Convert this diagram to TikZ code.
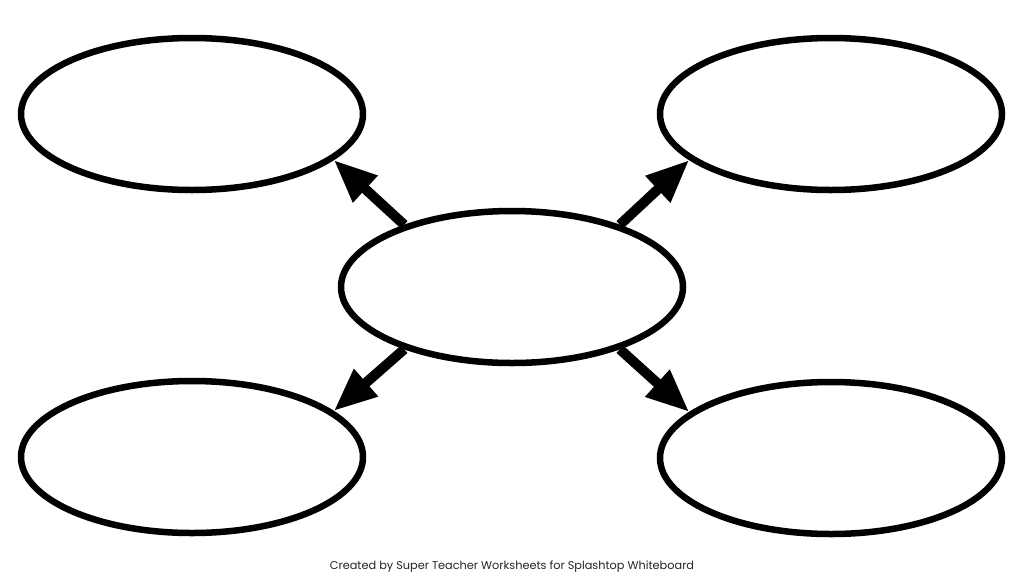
\documentclass[tikz,border=0pt]{standalone}
\usepackage{fontspec}
\setmainfont{Poppins}
\usetikzlibrary{shapes.geometric,arrows.meta}
\begin{document}
\begin{tikzpicture}[x=1pt,y=-1pt,
  bubble/.style={draw=black,line width=6.5pt,ellipse,minimum width=342pt,minimum height=152pt,inner sep=0pt,fill=white},
  arr/.style={line width=10pt,-{Triangle[length=43pt,width=34pt]}}]
\useasboundingbox[fill=white] (0,0) rectangle (1024,576);
\node[bubble] (c) at (512,287) {};
\node[bubble] (tl) at (192,114) {};
\node[bubble] (tr) at (831,114) {};
\node[bubble] (bl) at (192,457) {};
\node[bubble] (br) at (831,458) {};
\draw[arr] (c.150) -- (tl.-18);
\draw[arr] (c.30) -- (tr.198);
\draw[arr] (c.210) -- (bl.18);
\draw[arr] (c.-30) -- (br.162);
\node[anchor=base,inner sep=0pt,font=\fontsize{11.3}{13}\selectfont,text=black!85] (credit) at (512,569.5) {Created by Super Teacher Worksheets for Splashtop Whiteboard};
\end{tikzpicture}
\end{document}
